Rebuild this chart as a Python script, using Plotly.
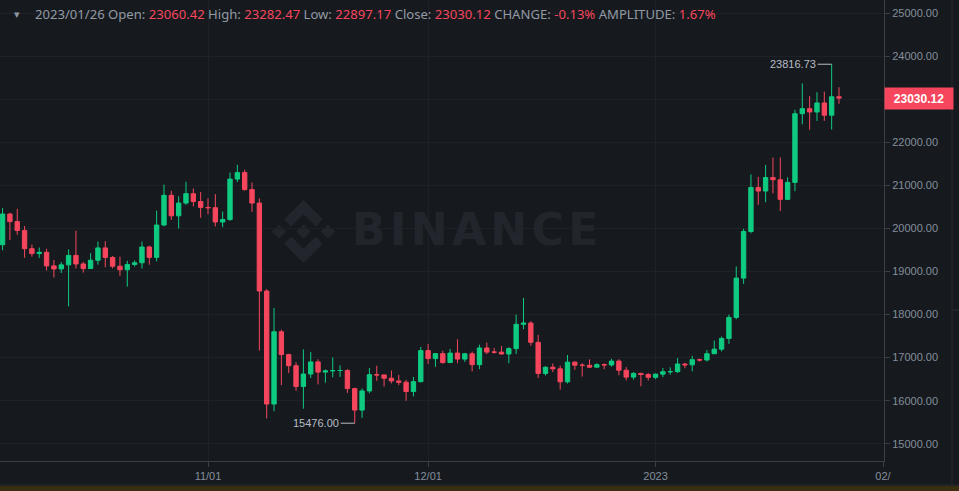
import pandas as pd
import plotly.graph_objects as go

# ---------------- data ----------------
dates = pd.date_range("2022-10-04", "2023-01-26", freq="D")

open_ = [
    # Oct 4 - Oct 31
    19623, 20336, 20160, 19955, 19531, 19417, 19446, 19131, 19061, 19155, 19375, 19176, 19069, 19262,
    19549, 19327, 19123, 19041, 19164, 19204, 19570, 19329, 20080, 20771, 20295, 20591, 20809, 20627,
    # Nov
    20490, 20483, 20151, 20207, 21148, 21299, 20905, 20591, 18547, 15922, 17601, 17070, 16812, 16330,
    16619, 16900, 16663, 16692, 16700, 16700, 16280, 15781, 16226, 16603, 16598, 16522, 16458, 16428,
    16212, 16442,
    # Dec
    17163, 16977, 17092, 16885, 17105, 16966, 17089, 16836, 17224, 17128, 17127, 17085, 17209, 17774,
    17803, 17356, 16632, 16776, 16739, 16438, 16895, 16824, 16821, 16778, 16837, 16830, 16919, 16707,
    16547, 16633, 16607,
    # Jan
    16542, 16616, 16673, 16674, 16852, 16832, 16951, 16945, 17091, 17197, 17446, 17934, 18847, 19930,
    20954, 20871, 21185, 21133, 20677, 21071, 22667, 22784, 22707, 22917, 22632, 23060.42,
]
close = [
    20336, 20160, 19955, 19531, 19417, 19446, 19131, 19061, 19155, 19375, 19176, 19069, 19262, 19549,
    19327, 19123, 19041, 19164, 19204, 19570, 19329, 20080, 20771, 20295, 20591, 20809, 20627, 20490,
    20483, 20151, 20207, 21148, 21299, 20905, 20591, 18547, 15922, 17601, 17070, 16812, 16330, 16619,
    16900, 16663, 16692, 16700, 16700, 16280, 15781, 16226, 16603, 16598, 16522, 16458, 16428, 16212,
    16442, 17163,
    16977, 17092, 16885, 17105, 16966, 17089, 16836, 17224, 17128, 17127, 17085, 17209, 17774, 17803,
    17356, 16632, 16776, 16739, 16438, 16895, 16824, 16821, 16778, 16837, 16830, 16919, 16707, 16547,
    16633, 16607, 16542,
    16616, 16673, 16674, 16852, 16832, 16951, 16945, 17091, 17197, 17446, 17934, 18847, 19930, 20954,
    20871, 21185, 21133, 20677, 21071, 22667, 22784, 22707, 22917, 22632, 23060.42, 23030.12,
]
high = [
    20475, 20365, 20456, 20057, 19628, 19558, 19529, 19268, 19219, 19513, 19951, 19224, 19426, 19695,
    19706, 19360, 19346, 19250, 19257, 19695, 19601, 20415, 21020, 20876, 20750, 21085, 20931, 20847,
    20700, 20800, 20394, 21302, 21480, 21365, 21069, 20700, 18590, 18154, 17650, 17090, 16892, 17190,
    17134, 16960, 16727, 17004, 16820, 16732, 16300, 16285, 16760, 16812, 16600, 16700, 16600, 16482,
    16550, 17250,
    17320, 17105, 17160, 17200, 17424, 17108, 17140, 17300, 17350, 17227, 17270, 17241, 18000, 18387,
    17846, 17530, 16800, 16863, 16816, 17061, 16915, 16868, 16959, 16869, 16864, 16972, 16963, 16780,
    16664, 16649, 16644,
    16630, 16759, 16773, 16990, 16878, 17041, 16977, 17176, 17398, 17490, 18000, 19117, 19995, 21258,
    21200, 21474, 21647, 21650, 21188, 22755, 23371, 23078, 23165, 23180, 23816.73, 23282.47,
]
low = [
    19493, 19730, 19853, 19320, 19347, 19316, 19026, 18860, 18965, 18190, 19070, 18975, 19063, 19160,
    19100, 19074, 18900, 18650, 19115, 19068, 19157, 19237, 20050, 20200, 20000, 20550, 20512, 20250,
    20330, 20048, 20031, 20180, 21080, 20880, 20388, 17166, 15588, 15754, 16361, 16640, 16229, 15815,
    16527, 16378, 16420, 16540, 16553, 16180, 15476, 15600, 16173, 16460, 16330, 16400, 16360, 15995,
    16100, 16425,
    16855, 16787, 16860, 16880, 16867, 16900, 16680, 16732, 17080, 17092, 17070, 16870, 17085, 17660,
    17275, 16527, 16584, 16663, 16256, 16398, 16715, 16559, 16760, 16780, 16730, 16791, 16592, 16470,
    16488, 16333, 16470,
    16499, 16548, 16605, 16645, 16753, 16679, 16908, 16911, 17081, 17142, 17320, 17892, 18714, 19889,
    20551, 20611, 20815, 20407, 20659, 20866, 22422, 22293, 22500, 22500, 22300, 22897.17,
]

x_tick_dates = ["2022-11-01", "2022-12-01", "2023-01-01", "2023-02-01"]
x_tick_labels = ["11/01", "12/01", "2023", "02/"]
# 23000.00 is hidden behind the last-price tag in the reference; its grid line is drawn separately
y_tick_vals = [15000, 16000, 17000, 18000, 19000, 20000, 21000, 22000, 24000, 25000]
hidden_grid_vals = [23000]

header_date = "2023/01/26"
hdr_open, hdr_high, hdr_low, hdr_close = "23060.42", "23282.47", "22897.17", "23030.12"
hdr_change, hdr_amp = "-0.13%", "1.67%"
last_price = 23030.12
max_date, max_price = "2023-01-25", 23816.73
min_date, min_price = "2022-11-21", 15476.00

# ---------------- style ----------------
BG = "#161a1e"
GRID = "#1e2228"
AXIS = "#3a3f47"
UP = "#0ecb81"
DOWN = "#f6465d"
TICK_TXT = "#848e9c"
HDR_TXT = "#9299a3"
WM = "#22262c"

W, H = 959, 491
PL, PR = 0, 884      # plot area in pixels (x)
PT, PB = 0, 461      # plot area in pixels (y)
px_per_day = 7.337
nov1 = pd.Timestamp("2022-11-01")
x0 = nov1 - pd.Timedelta(days=208 / px_per_day)
x1 = nov1 + pd.Timedelta(days=(PR - 208) / px_per_day)


def px(xp):
    return (xp - PL) / (PR - PL)


def py(yp):
    return 1 - (yp - PT) / (PB - PT)


fig = go.Figure()
fig.add_trace(go.Candlestick(
    x=dates, open=open_, high=high, low=low, close=close,
    increasing=dict(line=dict(color=UP, width=1), fillcolor=UP),
    decreasing=dict(line=dict(color=DOWN, width=1), fillcolor=DOWN),
    whiskerwidth=0, hoverinfo="skip", showlegend=False,
))

# watermark logo (Binance mark), drawn in paper coordinates
logo_polys = [
    [(38.73, 53.2), (63.3, 28.63), (87.89, 53.22), (102.19, 38.92), (63.3, 0), (24.42, 38.9)],
    [(0, 63.31), (14.3, 49.01), (28.6, 63.31), (14.3, 77.61)],
    [(38.73, 73.41), (63.3, 97.99), (87.89, 73.4), (102.19, 87.7), (63.3, 126.61), (24.42, 87.71)],
    [(98.01, 63.31), (112.31, 49.01), (126.61, 63.3), (112.31, 77.61)],
    [(77.83, 63.3), (63.3, 48.76), (48.76, 63.3), (63.3, 77.85)],
]
lx, ly, ls = 272, 200, 63 / 126.61
shapes = []
for gv in hidden_grid_vals:
    shapes.append(dict(type="line", xref="paper", yref="y", x0=0, x1=1, y0=gv, y1=gv,
                       line=dict(color=GRID, width=1), layer="below"))
for poly in logo_polys:
    path = "M " + " L ".join(f"{px(lx + a * ls):.5f},{py(ly + b * ls):.5f}" for a, b in poly) + " Z"
    shapes.append(dict(type="path", path=path, xref="paper", yref="paper",
                       fillcolor=WM, line=dict(width=0), layer="below"))

# frame details
shapes += [
    dict(type="line", xref="paper", yref="paper", x0=px(952), x1=px(952), y0=py(0), y1=py(485),
         line=dict(color="#262a31", width=1)),
    dict(type="line", xref="paper", yref="paper", x0=px(952), x1=px(959), y0=py(310), y1=py(310),
         line=dict(color="#2b2f36", width=1)),
    dict(type="line", xref="paper", yref="paper", x0=px(0), x1=px(959), y0=py(485), y1=py(485),
         line=dict(color="#262a31", width=1)),
    dict(type="rect", xref="paper", yref="paper", x0=px(0), x1=px(959), y0=py(486), y1=py(492),
         fillcolor="#3a2e10", line=dict(width=0)),
]

lbl = lambda t: f'<span style="color:{HDR_TXT}">{t}</span>'
val = lambda t: f'<span style="color:{DOWN}">{t}</span>'
header = (lbl(f"{header_date} Open: ") + val(hdr_open) + lbl(" High: ") + val(hdr_high)
          + lbl(" Low: ") + val(hdr_low) + lbl(" Close: ") + val(hdr_close)
          + lbl(" CHANGE: ") + val(hdr_change) + lbl(" AMPLITUDE: ") + val(hdr_amp))

annotations = [
    dict(text=header, xref="paper", yref="paper", x=px(33), y=py(14), xanchor="left",
         yanchor="middle", showarrow=False, font=dict(family="Noto Sans", size=13.1, color=HDR_TXT)),
    dict(text="▾", xref="paper", yref="paper", x=px(17), y=py(14), xanchor="center",
         yanchor="middle", showarrow=False, font=dict(family="DejaVu Sans", size=11, color=HDR_TXT)),
    dict(text="B\u200aI\u200aN\u200aA\u200aN\u200aC\u200aE", xref="paper", yref="paper", x=px(475), y=py(229),
         xanchor="center", yanchor="middle", showarrow=False,
         font=dict(family="DejaVu Sans", size=44, color=WM, weight="bold")),
    dict(text=f"{max_price:.2f}", x=max_date, y=max_price, xref="x", yref="y",
         showarrow=True, arrowhead=0, arrowwidth=1, arrowcolor="#b7bdc6", ax=-14, ay=0,
         xanchor="right", standoff=0, font=dict(family="Liberation Sans", size=11, color="#b7bdc6")),
    dict(text=f"{min_price:.2f}", x=min_date, y=min_price, xref="x", yref="y",
         showarrow=True, arrowhead=0, arrowwidth=1, arrowcolor="#b7bdc6", ax=-14, ay=0,
         xanchor="right", standoff=0, font=dict(family="Liberation Sans", size=11, color="#b7bdc6")),
    dict(text=f"<b>{last_price:.2f}</b>", x=1, y=last_price, xref="paper", yref="y",
         xanchor="left", yanchor="middle", showarrow=False, bgcolor=DOWN,
         width=64, height=17, borderpad=2, align="center",
         font=dict(family="Liberation Sans", size=12, color="white")),
]

fig.update_layout(
    width=W, height=H,
    margin=dict(l=PL, r=W - PR, t=PT, b=H - PB, pad=0),
    paper_bgcolor=BG, plot_bgcolor=BG,
    showlegend=False,
    boxgap=0.15,
    shapes=shapes,
    annotations=annotations,
    xaxis=dict(
        type="date", range=[x0, x1], rangeslider=dict(visible=False),
        tickvals=x_tick_dates, ticktext=x_tick_labels,
        showgrid=True, gridcolor=GRID, gridwidth=1,
        showline=True, linecolor=AXIS, linewidth=1,
        ticks="outside", ticklen=5, tickcolor=AXIS,
        tickfont=dict(family="Liberation Sans", size=11, color=TICK_TXT),
        zeroline=False, automargin=False, fixedrange=True,
    ),
    yaxis=dict(
        side="right", range=[14598, 25309],
        tickvals=y_tick_vals, tickformat=".2f",
        showgrid=True, gridcolor=GRID, gridwidth=1,
        showline=True, linecolor=AXIS, linewidth=1,
        ticks="outside", ticklen=5, tickcolor=AXIS,
        tickfont=dict(family="Liberation Sans", size=11, color=TICK_TXT),
        zeroline=False, automargin=False, fixedrange=True,
    ),
)

fig.write_html(
    "out.html",
    config={"displayModeBar": False},
    post_script="document.body.style.margin='0';document.body.style.background='" + BG + "';",
)
